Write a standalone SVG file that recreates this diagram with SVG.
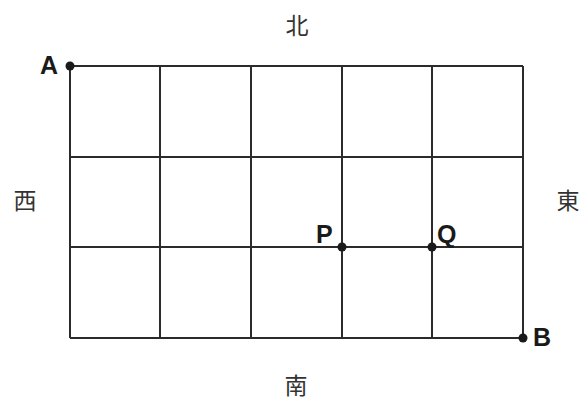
<svg xmlns="http://www.w3.org/2000/svg" width="582" height="401" viewBox="0 0 582 401">
<style>
.g{stroke:#2b2b2b;stroke-width:2;fill:none}
.pt{fill:#1a1a1a}
.lbl{font-family:"Liberation Sans",Arial,sans-serif;font-weight:bold;font-size:25px;fill:#1a1a1a}
.dir{font-family:"Noto Sans CJK JP","Noto Sans CJK SC",sans-serif;font-size:23px;fill:#333;text-anchor:middle;dominant-baseline:central}
</style>
<rect width="582" height="401" fill="#fff"/>
<g id="connectors">
<g class="g">
<line x1="70" y1="66" x2="523" y2="66"/>
<line x1="70" y1="157" x2="523" y2="157"/>
<line x1="70" y1="247" x2="523" y2="247"/>
<line x1="70" y1="338" x2="523" y2="338"/>
<line x1="70" y1="66" x2="70" y2="338"/>
<line x1="160" y1="66" x2="160" y2="338"/>
<line x1="251" y1="66" x2="251" y2="338"/>
<line x1="342" y1="66" x2="342" y2="338"/>
<line x1="432" y1="66" x2="432" y2="338"/>
<line x1="523" y1="66" x2="523" y2="338"/>
</g>
</g>
<g id="A"><circle class="pt" cx="70" cy="66" r="4.5"/><text class="lbl" x="40" y="74">A</text></g>
<g id="P"><circle class="pt" cx="342" cy="247" r="4.5"/><text class="lbl" x="316" y="243">P</text></g>
<g id="Q"><circle class="pt" cx="432" cy="247" r="4.5"/><text class="lbl" x="437" y="243">Q</text></g>
<g id="B"><circle class="pt" cx="523" cy="338" r="4.5"/><text class="lbl" x="533" y="346">B</text></g>
<g id="north"><text class="dir" x="297" y="24">北</text></g>
<g id="south"><text class="dir" x="296" y="384">南</text></g>
<g id="west"><text class="dir" x="25" y="199">西</text></g>
<g id="east"><text class="dir" x="568" y="199">東</text></g>
</svg>
